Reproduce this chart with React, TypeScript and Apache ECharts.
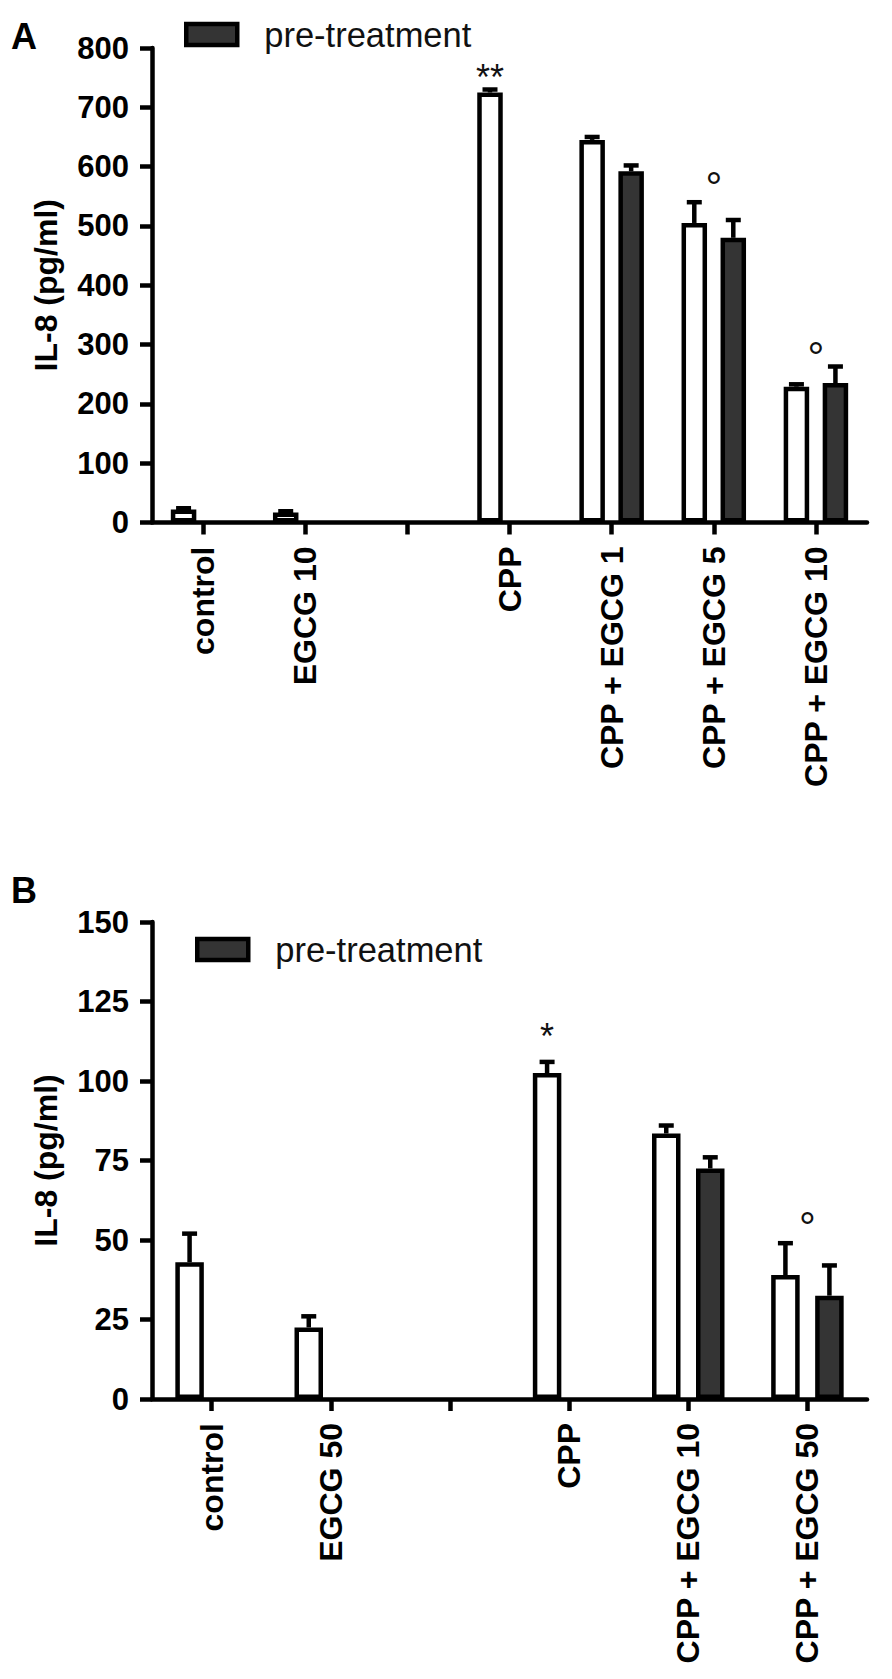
import React, { useEffect, useRef } from "react";
import * as echarts from "echarts";

const FONT = '"Liberation Sans", Arial, Helvetica, sans-serif';

// ---------- Panel A data ----------
const categoriesA = ["control", "EGCG 10", "", "CPP", "CPP + EGCG 1", "CPP + EGCG 5", "CPP + EGCG 10"];
const valuesA = [22, 17, null, 725, 645, 505, 229];
const errorsA = [2, 2, null, 5, 5, 35, 4];
const preValuesA = [null, null, null, null, 592, 480, 235];
const preErrorsA = [null, null, null, null, 10, 30, 28];
const yMinA = 0;
const yMaxA = 800;
const yStepA = 100;
const marksTextA = ["**", "°", "°"];
const marksCatA = [3, 5, 6];
const marksSlotA = [-1, 0, 0];
const marksYA = [765, 582, 296];

// ---------- Panel B data ----------
const categoriesB = ["control", "EGCG 50", "", "CPP", "CPP + EGCG 10", "CPP + EGCG 50"];
const valuesB = [43, 22.5, null, 102.5, 83.5, 39];
const errorsB = [9, 3.5, null, 3.5, 2.5, 10];
const preValuesB = [null, null, null, null, 72.5, 32.5];
const preErrorsB = [null, null, null, null, 3.5, 9.5];
const yMinB = 0;
const yMaxB = 150;
const yStepB = 25;
const marksTextB = ["*", "°"];
const marksCatB = [3, 5];
const marksSlotB = [-1, 0];
const marksYB = [116.7, 57.2];

const SERIES_NAME = "pre-treatment";
const WHITE_NAME = "treatment";

// ---------- style constants ----------
const LINE_W = 4.5;
const DARK = "#343434";
const BAR_W_A = 25.5;
const GAP_A = 13.5;
const BAR_W_B = 28.5;
const GAP_B = 15.5;
const CAP_W = 15;

function toBarData(arr: (number | null)[]) {
  return arr.map((v) => (v == null ? "-" : v));
}

function errData(vals: (number | null)[], errs: (number | null)[], slot: number) {
  const out: number[][] = [];
  vals.forEach((v, i) => {
    const e = errs[i];
    if (v != null && e != null) out.push([i, v, e, slot]);
  });
  return out;
}

function errRenderer(offset: number) {
  return (params: any, api: any) => {
    const idx = api.value(0);
    const v = api.value(1);
    const e = api.value(2);
    const slot = api.value(3);
    const p0 = api.coord([idx, v]);
    const p1 = api.coord([idx, v + e]);
    const x = p0[0] + slot * offset;
    const st = { stroke: "#000", lineWidth: LINE_W, fill: "none" };
    return {
      type: "group",
      children: [
        { type: "line", shape: { x1: x, y1: p0[1], x2: x, y2: p1[1] }, style: st },
        { type: "line", shape: { x1: x - CAP_W / 2, y1: p1[1], x2: x + CAP_W / 2, y2: p1[1] }, style: st },
      ],
    };
  };
}

function markRenderer(offset: number, texts: string[]) {
  return (params: any, api: any) => {
    const idx = api.value(0);
    const y = api.value(1);
    const slot = api.value(2);
    const p = api.coord([idx, y]);
    const t = texts[params.dataIndex];
    const isStar = t.indexOf("*") >= 0;
    const fs = isStar ? 36 : 42;
    return {
      type: "text",
      x: p[0] + slot * offset,
      y: p[1] + fs * (isStar ? 0.23 : 0.25),
      style: {
        text: t,
        fill: "#111",
        fontSize: fs,
        fontFamily: FONT,
        align: "center",
        verticalAlign: "middle",
        textAlign: "center",
        textVerticalAlign: "middle",
      },
    };
  };
}

function markData(cats: number[], ys: number[], slots: number[]) {
  return cats.map((c, i) => [c, ys[i], slots[i]]);
}

const axisLine = { show: true, lineStyle: { color: "#000", width: LINE_W } };
const axisTick = { show: true, length: 12, lineStyle: { color: "#000", width: LINE_W } };

function xAxisFor(grid: number, data: string[], margin: number) {
  return {
    type: "category",
    gridIndex: grid,
    data,
    axisLine,
    axisTick: { ...axisTick, alignWithLabel: true, interval: 0 },
    axisLabel: {
      rotate: 90,
      interval: 0,
      margin,
      fontSize: 32,
      fontWeight: "bold",
      color: "#000",
      fontFamily: FONT,
    },
    splitLine: { show: false },
  };
}

function yAxisFor(grid: number, min: number, max: number, step: number) {
  return {
    type: "value",
    gridIndex: grid,
    min,
    max,
    interval: step,
    axisLine,
    axisTick,
    axisLabel: { fontSize: 31, fontWeight: "bold", color: "#000", fontFamily: FONT, margin: 23 },
    splitLine: { show: false },
    name: "IL-8 (pg/ml)",
    nameLocation: "middle",
    nameGap: 90,
    nameTextStyle: { fontSize: 32, fontWeight: "bold", color: "#000", fontFamily: FONT },
  };
}

function legendFor(left: number, top: number) {
  return {
    data: [{ name: SERIES_NAME, icon: "rect" }],
    left,
    top,
    padding: 0,
    itemWidth: 51,
    itemHeight: 21,
    selectedMode: false,
    itemStyle: { color: DARK, borderColor: "#000", borderWidth: LINE_W },
    textStyle: { fontSize: 34.5, color: "#111", fontFamily: FONT, padding: [0, 0, 0, 22] },
  };
}

function barSeries(name: string, axis: number, data: (number | null)[], fill: string, w: number, gap: number) {
  return {
    type: "bar",
    name,
    xAxisIndex: axis,
    yAxisIndex: axis,
    data: toBarData(data),
    barWidth: w,
    barGap: `${(gap / w) * 100}%`,
    itemStyle: { color: fill, borderColor: "#000", borderWidth: LINE_W },
    z: 2,
  };
}

export default function App() {
  const ref = useRef<HTMLDivElement>(null);
  useEffect(() => {
    if (!ref.current) return;
    const chart = echarts.init(ref.current, null, { renderer: "svg" });
    const offA = (BAR_W_A + GAP_A) / 2;
    const offB = (BAR_W_B + GAP_B) / 2;
    const letter = (t: string, y: number) => ({
      type: "text",
      x: 11,
      y,
      style: {
        text: t,
        fontSize: 36,
        fontWeight: "bold",
        fontFamily: FONT,
        fill: "#000",
        verticalAlign: "middle",
        textVerticalAlign: "middle",
      },
    });
    chart.setOption({
      animation: false,
      backgroundColor: "#fff",
      textStyle: { fontFamily: FONT },
      grid: [
        { left: 152, top: 48, width: 715, height: 474.5 },
        { left: 152, top: 922, width: 715, height: 477 },
      ],
      xAxis: [xAxisFor(0, categoriesA, 24), xAxisFor(1, categoriesB, 24)],
      yAxis: [yAxisFor(0, yMinA, yMaxA, yStepA), yAxisFor(1, yMinB, yMaxB, yStepB)],
      legend: [legendFor(184, 17), legendFor(195, 932)],
      graphic: [letter("A", 36), letter("B", 890)],
      series: [
        barSeries(WHITE_NAME, 0, valuesA, "#fff", BAR_W_A, GAP_A),
        barSeries(SERIES_NAME, 0, preValuesA, DARK, BAR_W_A, GAP_A),
        barSeries(WHITE_NAME, 1, valuesB, "#fff", BAR_W_B, GAP_B),
        barSeries(SERIES_NAME, 1, preValuesB, DARK, BAR_W_B, GAP_B),
        {
          type: "custom",
          xAxisIndex: 0,
          yAxisIndex: 0,
          data: [...errData(valuesA, errorsA, -1), ...errData(preValuesA, preErrorsA, 1)],
          renderItem: errRenderer(offA),
          z: 3,
          silent: true,
        },
        {
          type: "custom",
          xAxisIndex: 1,
          yAxisIndex: 1,
          data: [...errData(valuesB, errorsB, -1), ...errData(preValuesB, preErrorsB, 1)],
          renderItem: errRenderer(offB),
          z: 3,
          silent: true,
        },
        {
          type: "custom",
          xAxisIndex: 0,
          yAxisIndex: 0,
          data: markData(marksCatA, marksYA, marksSlotA),
          renderItem: markRenderer(offA, marksTextA),
          z: 4,
          silent: true,
        },
        {
          type: "custom",
          xAxisIndex: 1,
          yAxisIndex: 1,
          data: markData(marksCatB, marksYB, marksSlotB),
          renderItem: markRenderer(offB, marksTextB),
          z: 4,
          silent: true,
        },
      ],
    });
    return () => chart.dispose();
  }, []);
  return (
    <div
      ref={ref}
      style={{ position: "absolute", left: 0, top: 0, width: 892, height: 1679, background: "#fff" }}
    />
  );
}
